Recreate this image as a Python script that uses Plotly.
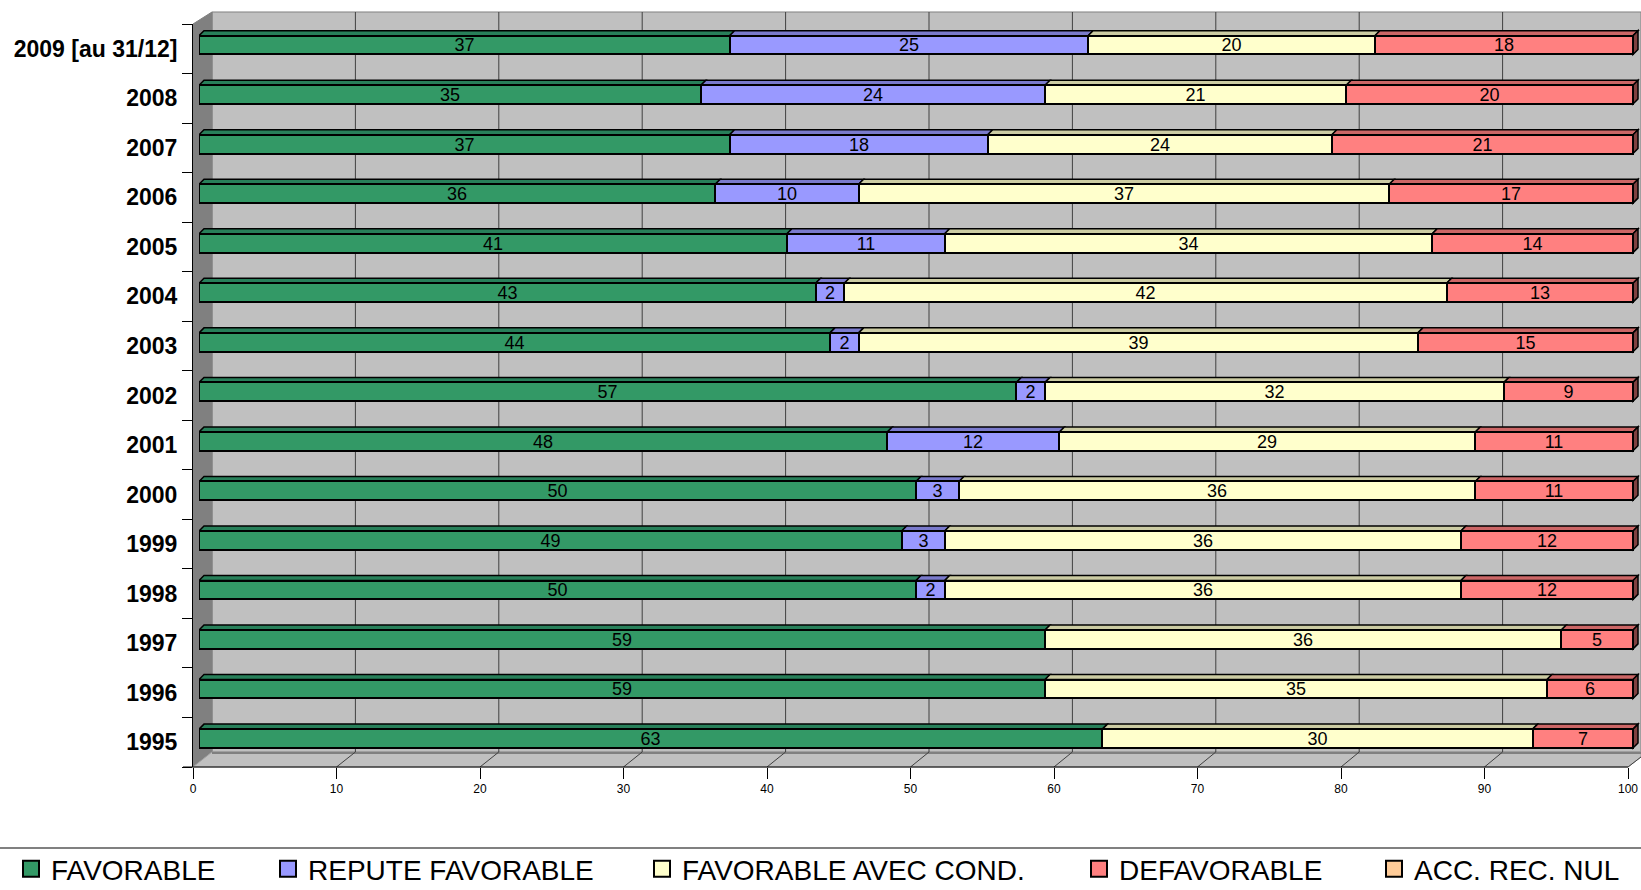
import plotly.graph_objects as go

# ---------------- data ----------------
years = ["1995", "1996", "1997", "1998", "1999", "2000", "2001", "2002",
         "2003", "2004", "2005", "2006", "2007", "2008", "2009 [au 31/12]"]
favorable = [63, 59, 59, 50, 49, 50, 48, 57, 44, 43, 41, 36, 37, 35, 37]
repute_favorable = [0, 0, 0, 2, 3, 3, 12, 2, 2, 2, 11, 10, 18, 24, 25]
favorable_avec_cond = [30, 35, 36, 36, 36, 36, 29, 32, 39, 42, 34, 37, 24, 21, 20]
defavorable = [7, 6, 5, 12, 12, 11, 11, 9, 15, 13, 14, 17, 21, 20, 18]
acc_rec_nul = [0, 0, 0, 0, 0, 0, 0, 0, 0, 0, 0, 0, 0, 0, 0]
x_ticks = [0, 10, 20, 30, 40, 50, 60, 70, 80, 90, 100]

series_names = ["FAVORABLE", "REPUTE FAVORABLE", "FAVORABLE AVEC COND.",
                "DEFAVORABLE", "ACC. REC. NUL"]
series_values = [favorable, repute_favorable, favorable_avec_cond,
                 defavorable, acc_rec_nul]
series_colors = ["#339966", "#9999FF", "#FFFFCC", "#FF8080", "#FFCC99"]
top_colors = ["#28805A", "#7A7ACC", "#CCCCA3", "#CC6666", "#CCA37A"]
end_colors = ["#1A4D33", "#4D4D80", "#808066", "#804040", "#806650"]

FONT = "Liberation Sans, Arial, sans-serif"

# ---------------- geometry (pixels) ----------------
W, H = 1641, 890
FRONT_L, FRONT_R = 193, 1628      # front plane: 0 and 100
BAR_L, BAR_R = 199, 1633          # bar plane: 0 and 100
BACK_L = 212                      # back plane: 0
TOP, BOTTOM = 24, 767             # front plane category extent
BACK_TOP, BACK_BOTTOM = 12, 752
n = len(years)
px_x = (BAR_R - BAR_L) / 100.0
px_xf = (FRONT_R - FRONT_L) / 100.0
px_y = (BOTTOM - TOP) / n
BAR_W = 0.38
SHIFT = 3.7 / px_y
DX = 5 / px_x
DY = 5 / px_y


def P(px, py):
    return f"{px / W:.5f},{1 - py / H:.5f}"


fig = go.Figure()

ypos = list(range(n))
for i, (name, vals, col) in enumerate(zip(series_names, series_values, series_colors)):
    xv = [v if v else None for v in vals]
    fig.add_trace(go.Bar(
        y=ypos, x=xv, orientation="h", name=name,
        width=BAR_W, offset=SHIFT - BAR_W / 2,
        marker=dict(color=col, line=dict(color="black", width=2)),
        text=[str(v) if v else "" for v in vals],
        textposition="inside", insidetextanchor="middle", textangle=0,
        constraintext="none",
        textfont=dict(family=FONT, size=18, color="black"),
        showlegend=False,
        hoverinfo="skip",
    ))

# legend entries (square swatches, like the original)
for i, (name, col) in enumerate(zip(series_names, series_colors)):
    fig.add_trace(go.Scatter(
        x=[None], y=[None], mode="markers", name=name,
        marker=dict(symbol="square", size=16, color=col,
                    line=dict(color="black", width=2)),
        legend="legend" if i == 0 else f"legend{i + 1}",
        hoverinfo="skip",
    ))

# dummy trace to carry the front-plane axis
fig.add_trace(go.Scatter(x=x_ticks, y=[None] * len(x_ticks), xaxis="x2", yaxis="y",
                         mode="markers", showlegend=False, hoverinfo="skip"))

shapes = []
# ---- walls (paper) ----
shapes.append(dict(type="path", xref="paper", yref="paper", layer="below",
                   path=f"M{P(BACK_L, BACK_TOP)} L{P(W, BACK_TOP)} L{P(W, BACK_BOTTOM)} L{P(BACK_L, BACK_BOTTOM)} Z",
                   fillcolor="#C0C0C0", line=dict(color="#808080", width=1)))
shapes.append(dict(type="path", xref="paper", yref="paper", layer="below",
                   path=f"M{P(FRONT_L, TOP)} L{P(BACK_L, BACK_TOP)} L{P(BACK_L, BACK_BOTTOM)} L{P(FRONT_L, BOTTOM)} Z",
                   fillcolor="#808080", line=dict(color="#808080", width=1)))
shapes.append(dict(type="path", xref="paper", yref="paper", layer="below",
                   path=f"M{P(FRONT_L, BOTTOM)} L{P(BACK_L, BACK_BOTTOM)} L{P(W, BACK_BOTTOM)} L{P(W, BOTTOM - 10)} L{P(FRONT_R, BOTTOM)} Z",
                   fillcolor="#C0C0C0", line=dict(color="#A0A0A0", width=1)))
shapes.append(dict(type="line", xref="paper", yref="paper", layer="below",
                   x0=BACK_L / W, x1=1, y0=1 - (BACK_BOTTOM + 1) / H, y1=1 - (BACK_BOTTOM + 1) / H,
                   line=dict(color="#808080", width=2)))
# back-wall gridlines and floor gridlines
for v in x_ticks[1:]:
    bx = BACK_L + v * px_x
    fx = FRONT_L + v * px_xf
    if bx < W:
        shapes.append(dict(type="line", xref="paper", yref="paper", layer="below",
                           x0=bx / W, x1=bx / W, y0=1 - BACK_TOP / H, y1=1 - BACK_BOTTOM / H,
                           line=dict(color="#404040", width=1)))
    shapes.append(dict(type="path", xref="paper", yref="paper", layer="below",
                       path=f"M{P(fx, BOTTOM)} L{P(min(bx, W), BACK_BOTTOM + (bx - min(bx, W)))}",
                       line=dict(color="#404040", width=1)))
# front floor edge
shapes.append(dict(type="line", xref="paper", yref="paper", layer="below",
                   x0=(FRONT_L - 10) / W, x1=FRONT_R / W, y0=1 - BOTTOM / H, y1=1 - BOTTOM / H,
                   line=dict(color="black", width=1)))
# legend separator
shapes.append(dict(type="line", xref="paper", yref="paper", layer="below",
                   x0=0, x1=1, y0=1 - 848 / H, y1=1 - 848 / H,
                   line=dict(color="#808080", width=2)))

# ---- 3D top faces and right end faces of bars (data coords) ----
for k in range(n):
    yt = k + SHIFT + BAR_W / 2
    yb = k + SHIFT - BAR_W / 2
    start = 0
    last_i = 0
    for i, vals in enumerate(series_values):
        v = vals[k]
        if not v:
            continue
        a, b = start, start + v
        shapes.append(dict(type="path", xref="x", yref="y", layer="below",
                           path=f"M{a},{yt} L{a + DX},{yt + DY} L{b + DX},{yt + DY} L{b},{yt} Z",
                           fillcolor=top_colors[i], line=dict(color="black", width=1.5)))
        start = b
        last_i = i
    shapes.append(dict(type="path", xref="x", yref="y", layer="below",
                       path=f"M{start},{yb} L{start},{yt} L{start + DX},{yt + DY} L{start + DX},{yb + DY} Z",
                       fillcolor=end_colors[last_i], line=dict(color="black", width=1.5)))

layout_legends = {}
legend_lefts = [11, 268, 642, 1079, 1374]
for i, lx in enumerate(legend_lefts):
    key = "legend" if i == 0 else f"legend{i + 1}"
    layout_legends[key] = dict(
        x=lx / W, xanchor="left", y=1 - 869 / H, yanchor="middle",
        orientation="h", bgcolor="rgba(0,0,0,0)",
        font=dict(family=FONT, size=28, color="black"),
        itemclick=False, itemdoubleclick=False, itemsizing="trace",
    )

fig.update_layout(
    width=W, height=H,
    margin=dict(l=0, r=0, t=0, b=0, pad=0, autoexpand=False),
    paper_bgcolor="white", plot_bgcolor="rgba(0,0,0,0)",
    barmode="stack", bargap=0,
    showlegend=True,
    shapes=shapes,
    xaxis=dict(domain=[BAR_L / W, 1], range=[0, (W - BAR_L) / px_x], visible=False,
               fixedrange=True),
    xaxis2=dict(domain=[FRONT_L / W, 1], range=[0, (W - FRONT_L) / px_xf],
                anchor="y", side="bottom", automargin=False,
                tickmode="array", tickvals=x_ticks, ticktext=[str(t) for t in x_ticks],
                ticks="outside", ticklen=11, tickcolor="black", tickwidth=1,
                showgrid=False, zeroline=False, showline=False,
                tickfont=dict(family=FONT, size=12, color="black"), fixedrange=True),
    yaxis=dict(domain=[1 - BOTTOM / H, 1 - TOP / H], range=[-0.5, n - 0.5],
               anchor="x2", automargin=False,
               tickmode="array", tickvals=ypos, ticktext=years,
               ticks="", ticklabelstandoff=10,
               minor=dict(tickmode="array", tickvals=[k - 0.5 for k in range(n + 1)],
                          ticks="outside", ticklen=10, tickcolor="black", tickwidth=1,
                          showgrid=False),
               showgrid=False, zeroline=False, showline=True, linecolor="black", linewidth=1,
               tickfont=dict(family=FONT, size=23, color="black", weight="bold"),
               fixedrange=True),
    **layout_legends,
)

fig.write_html("out.html", config={"displayModeBar": False},
               post_script="document.body.style.margin='0';document.body.style.overflow='hidden';")
